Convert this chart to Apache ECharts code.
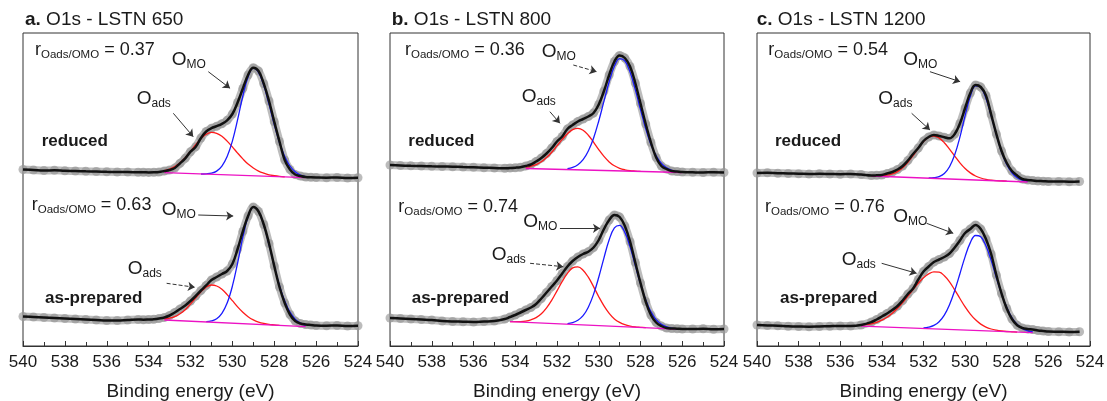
<!DOCTYPE html>
<html><head><meta charset="utf-8">
<script src="https://cdn.jsdelivr.net/npm/echarts@6/dist/echarts.min.js"></script>
<style>html,body{margin:0;padding:0;background:#fff}#c{width:1107px;height:401px}</style>
</head><body><div id="c"></div>
<script>
const N = null;
// Binding energy grid of the measured spectra (eV)
const energy = [540,539.5,539,538.5,538,537.5,537,536.5,536,535.5,535,534.5,534.25,534,533.75,533.5,533.25,533,532.75,532.5,532.25,532,531.75,531.5,531.25,531,530.75,530.5,530.25,530,529.75,529.5,529.25,529,528.75,528.5,528.25,528,527.75,527.5,527.25,527,526.75,526.5,526.25,526,525.5,525,524.5,524];
// Intensities (arbitrary units, offset stacked)
const a650Red  = [176.5,176,175.5,175.7,175.2,175,174.7,174.5,174.2,174,174,173.7,173.7,173.6,173.7,174,175,176,178,182.7,187.7,194.3,199.3,208,214.5,217.8,219.8,222.2,225.7,232,243.5,257.5,271,278.3,275,262.3,245,224.3,204.5,186,176.5,171.5,170,169,168.7,168.5,168.3,168.5,168,168.2];
const a650Prep = [29.5,29,28.5,28,27.5,27,26.5,26,25.5,25.5,26,26.5,26.3,26.5,26.8,27.5,28.5,30.5,33.5,37,40.5,45,50,55.5,60.6,66,69,72,75,82,97,114.5,130,139,134.5,121.5,102.5,80,59,43,31.5,25,22.5,21.5,21,20.5,20.3,20.5,20,20.3];
const b800Red  = [181,180.5,180.2,180,179.7,179.5,179.3,179,178.7,178.3,178,177.7,178,178.3,178.8,180,181.5,184.5,188,192.5,198,204.5,209.5,217,221,224.5,227,229.5,233,241.5,255,271,284.5,290.5,288,279.5,263,242.5,222,203.5,188.5,180,177,175,174.5,174,173.7,173.5,173.8,173.5];
const b800Prep = [28,27.5,27,26.5,26,25,24.5,24.3,24,24.5,25,27,29,31,33.5,36,38.5,42,47.5,53.5,59.5,65.5,72.5,79.5,85,89,92,94.3,98.5,106,117,126,131,129,120,104.3,83.5,63,44.5,31,23.5,20,18,17.5,17.3,17,17,17.2,16.8,17];
const c1200Red = [173,173.2,172.8,172.5,172.3,172,172.2,172,171.8,172,171.5,170.5,170.7,171,172.5,174,176.5,180,185.5,192,198,205,209,211,210,208.8,207.7,212,222.5,238,253,261,259,250.5,231.5,212,195,183,175,170.5,167,166,165.5,165,164.8,164.5,164.5,164.3,164.5,N];
const c1200Prep= [21,20.5,20.3,19.8,19.5,19.3,19.5,19.8,20,20,21,24,26.5,29.5,32.5,36,40,45.5,52,57.5,66.5,74.5,79.5,84,86.5,89,92.5,98.5,105.5,113,117,121,117,107,92,71,52.5,37.5,27,20.8,18,17,16.5,15.5,15,14.5,14.3,14,14.3,N];

// Fitted components on the fit grid (eV)
const fitE = [535,534.75,534.5,534.25,534,533.75,533.5,533.25,533,532.75,532.5,532.25,532,531.75,531.5,531.25,531,530.75,530.5,530.25,530,529.75,529.5,529.25,529,528.75,528.5,528.25,528,527.75,527.5,527.25,527,526.75,526.5,526.25,526];
const a650RedAds  = [N,N,N,N,N,N,N,175.3,176.9,179.5,183.3,188.4,194.7,201.3,207.3,211.7,213.6,212.6,209.7,204.9,199.1,192.9,187.1,181.9,178,174.9,172.8,171.2,170.3,169.6,169.1,N,N,N,N,N,N];
const a650RedMO   = [N,N,N,N,N,N,N,N,N,N,N,N,N,N,172.0,172.2,172.8,174.9,179.9,189.4,204.9,226.3,250,269.1,277.8,273.7,260.6,241.8,221.7,203.5,189.5,180,174.2,170.9,169.3,N,N];
const a650PrepAds = [N,N,N,N,N,N,N,26.9,27.8,29.3,32.2,36.3,41.9,48.1,54.3,58.9,61,60,56.7,51.4,45.3,39.1,33.7,29.3,26.1,23.9,22.5,21.6,21.1,20.6,N,N,N,N,N,N,N];
const a650PrepMO  = [N,N,N,N,N,N,N,N,N,N,N,N,N,N,N,24.4,25.1,27.3,32.7,42.9,59.8,83,108.8,129.4,138.8,134.5,121,101.5,80.1,60.4,44.9,33.8,26.9,22.9,20.7,N,N];
const b800RedAds  = [N,N,N,N,N,N,178.7,179.7,181.4,184.3,188.5,193.8,200.1,206.6,212.3,216.3,217.7,215.8,210.8,203.9,196.4,189.6,184.1,180.2,177.7,176.2,175.3,174.9,174.6,N,N,N,N,N,N,N,N];
const b800RedMO   = [N,N,N,N,N,N,N,N,N,N,N,N,N,N,177.4,178.6,181.3,186.3,195,207.8,225,244.8,264.3,279.8,287.4,285.1,273.9,256.4,236.4,217.3,201.6,190.1,182.6,178.1,175.7,174.3,173.6];
const b800PrepAds = [N,N,N,24.4,24.3,24.4,24.9,26.2,28.4,32.3,38.2,45.9,55.1,64.6,72.7,78.1,79.2,75.8,68.8,59.4,49.3,40.2,32.7,27.1,23.6,21.3,19.9,19.1,18.7,18.3,N,N,N,N,N,N,N];
const b800PrepMO  = [N,N,N,N,N,N,N,N,N,N,N,N,N,N,22.4,23.3,25.7,30.3,38.8,51.6,68.7,88.2,106.2,118.1,120.6,113.6,99.1,80.6,62.1,46.1,34.2,26.4,21.7,19.1,17.8,16.9,N];
const c1200RedAds = [N,N,170.1,170.1,170.2,170.8,172.1,174.4,178.3,183.7,190.5,197.8,204.4,208.8,210,207.9,203.3,196.9,189.9,183.2,177.5,173.1,170,168,166.7,165.9,165.4,165.1,164.8,N,N,N,N,N,N,N,N];
const c1200RedMO  = [N,N,N,N,N,N,N,N,N,N,N,N,N,168,168.3,169.4,172.5,179.3,191.2,208.9,230.4,249.6,260.2,258.8,247.7,230.4,211.3,194.3,181.5,173.2,168.3,165.8,164.6,N,N,N,N];
const c1200PrepAds= [20.8,21.3,22.2,23.7,25.8,28.8,32.8,37.7,43.5,49.9,56.5,62.8,68.2,72.1,74.1,73.8,70.3,64.2,56.1,47.5,39.1,31.9,26.2,21.9,18.9,17,15.8,15,14.5,14.2,13.9,N,N,N,N,N,N];
const c1200PrepMO = [N,N,N,N,N,N,N,N,N,N,N,N,18,18.8,20.6,24.3,30.9,41.3,55.4,72.3,89.4,103.4,110.5,109.2,100.2,85.6,68.5,52.1,38.4,28.2,21.5,17.5,15.2,14,N,N,N];

// Background (baseline) end points [eV, intensity]
const a650RedBase  = [[533.25,173.3],[526.5,168.3]];
const a650PrepBase = [[533.25,26.0],[526.5,19.3]];
const b800RedBase  = [[533.5,177.5],[526,173.5]];
const b800PrepBase = [[534.25,24.3],[526,16.6]];
const c1200RedBase = [[534.5,170],[527,164]];
const c1200PrepBase= [[535,19.8],[526.75,13.3]];

// Annotation arrows [fromE, fromI, toE, toI, dashed]
const a650RedArrows  = [[531.15,274.3,530.11,257.7,0],[532.82,232.7,531.87,209.3,0]];
const a650PrepArrows = [[531.63,131,529.96,130,0],[533.14,62.7,531.79,58.7,1]];
const b800RedArrows  = [[531.22,281,530.1,274.3,1],[532.34,234.3,531.86,222.7,0]];
const b800PrepArrows = [[531.86,117.7,529.94,117.7,0],[533.29,82.7,531.7,79.3,1]];
const c1200RedArrows = [[531.69,274.3,530.24,264.3,0],[532.57,232.7,531.69,216,0]];
const c1200PrepArrows= [[531.85,122.7,530.57,112.7,0],[534.01,82.7,532.33,72.7,0]];

// Texts
const panelTitles = [['a.',' O1s - LSTN 650'],['b.',' O1s - LSTN 800'],['c.',' O1s - LSTN 1200']];
const ratioValues = ['0.37','0.63','0.36','0.74','0.54','0.76'];
const stateNames = ['reduced','as-prepared'];
const xTicksMin = 524, xTicksMax = 540, xTickStep = 2;
const axisTitle = 'Binding energy (eV)';

const FONT = "'Liberation Sans', Arial, Helvetica, sans-serif";
const INK = '#1a1a1a';

const spectra = [
  {g:0, data:a650Red,  base:a650RedBase,  ads:a650RedAds,  mo:a650RedMO,  arrows:a650RedArrows},
  {g:0, data:a650Prep, base:a650PrepBase, ads:a650PrepAds, mo:a650PrepMO, arrows:a650PrepArrows},
  {g:1, data:b800Red,  base:b800RedBase,  ads:b800RedAds,  mo:b800RedMO,  arrows:b800RedArrows},
  {g:1, data:b800Prep, base:b800PrepBase, ads:b800PrepAds, mo:b800PrepMO, arrows:b800PrepArrows},
  {g:2, data:c1200Red, base:c1200RedBase, ads:c1200RedAds, mo:c1200RedMO, arrows:c1200RedArrows},
  {g:2, data:c1200Prep,base:c1200PrepBase,ads:c1200PrepAds,mo:c1200PrepMO,arrows:c1200PrepArrows}
];

function pairs(xs, ys){ const out=[]; xs.forEach((x,i)=>{ if(ys[i]!=null) out.push([x,ys[i]]); }); return out; }

const gridBoxes = [{left:23,width:335},{left:390,width:334},{left:757,width:333}];
const grid = gridBoxes.map(b=>({left:b.left, top:33, width:b.width, height:313, show:true, borderColor:'#333', borderWidth:1,
  backgroundColor:'transparent', containLabel:false, outerBoundsMode:'none'}));
const xAxis = gridBoxes.map((b,i)=>({
  gridIndex:i, type:'value', min:xTicksMin, max:xTicksMax, interval:xTickStep, inverse:true,
  axisLine:{show:true, lineStyle:{color:'#333', width:1}},
  axisTick:{show:true, inside:true, length:5, lineStyle:{color:'#333'}},
  minorTick:{show:true, splitNumber:2, length:4, lineStyle:{color:'#333'}},
  splitLine:{show:false}, minorSplitLine:{show:false},
  axisLabel:{fontSize:17, color:'#1a1a1a', margin:8, fontFamily:FONT},
  name:axisTitle, nameLocation:'middle', nameGap:36,
  nameTextStyle:{fontSize:19, color:'#1a1a1a', fontFamily:FONT}
}));
const yAxis = gridBoxes.map((b,i)=>({gridIndex:i, type:'value', min:0, max:313, show:false}));

const series = [];
spectra.forEach(s=>{
  const pts = pairs(energy, s.data);
  series.push({type:'line', xAxisIndex:s.g, yAxisIndex:s.g, data:pts, smooth:0.3, silent:true,
    symbol:'circle', symbolSize:9, showSymbol:true, showAllSymbol:true,
    itemStyle:{color:'rgba(150,150,150,0.65)'}, lineStyle:{color:'rgba(160,160,160,0.7)', width:8}, z:1});
  series.push({type:'line', xAxisIndex:s.g, yAxisIndex:s.g, data:pairs(fitE, s.ads), smooth:0.4, silent:true,
    showSymbol:false, lineStyle:{color:'#ff1a1a', width:1.3}, z:3});
  series.push({type:'line', xAxisIndex:s.g, yAxisIndex:s.g, data:pairs(fitE, s.mo), smooth:0.4, silent:true,
    showSymbol:false, lineStyle:{color:'#1a1aff', width:1.3}, z:3});
  series.push({type:'line', xAxisIndex:s.g, yAxisIndex:s.g, data:s.base, silent:true,
    showSymbol:false, lineStyle:{color:'#ec12c4', width:1.3}, z:4});
  series.push({type:'line', xAxisIndex:s.g, yAxisIndex:s.g, data:pts, smooth:0.4, silent:true,
    showSymbol:false, lineStyle:{color:'#111', width:2.5}, z:5,
    markLine:{silent:true, symbol:['none','arrow'], symbolSize:7, animation:false,
      label:{show:false}, lineStyle:{color:'#333', width:1, type:'solid'},
      data:s.arrows.map(a=>[{coord:[a[0],a[1]], lineStyle:{type:a[4]?'dashed':'solid', color:'#333', width:1}},{coord:[a[2],a[3]]}])}
  });
});

// Text layout (pixel positions)
const titlePos = [[25,20],[391.7,20],[756.7,20]];
const ratioPos = [[35,50],[31.7,205],[405,50],[398.3,206.7],[768.3,50],[765,206.7]];
const moPos    = [[171.7,60],[161.7,210],[541.7,51.7],[523.3,221.7],[903.3,60],[893.3,216.7]];
const adsPos   = [[136.7,99],[127.7,268.3],[521.7,96.7],[491.7,255],[878.3,99],[841.7,260]];
const statePos = [[41.7,141.7],[45,298.3],[408.3,141.7],[411.7,298.3],[775,141.7],[780,298.3]];

const graphic = [];
panelTitles.forEach((t,i)=>{
  graphic.push({type:'text', x:titlePos[i][0], y:titlePos[i][1], silent:true,
    style:{text:'{b|'+t[0]+'}{n|'+t[1]+'}', verticalAlign:'middle', align:'left', fill:INK,
      rich:{b:{fontSize:19, fontWeight:'bold', fontFamily:FONT, fill:INK},
            n:{fontSize:19, fontFamily:FONT, fill:INK}}}});
});
ratioValues.forEach((v,i)=>{
  graphic.push({type:'text', x:ratioPos[i][0], y:ratioPos[i][1], silent:true,
    style:{text:'{r|r}{s|Oads/OMO}{t| = '+v+'}', verticalAlign:'middle', align:'left', fill:INK,
      rich:{r:{fontSize:18, lineHeight:22, fontFamily:FONT, fill:INK},
            s:{fontSize:11.5, lineHeight:10, verticalAlign:'bottom', fontFamily:FONT, fill:INK},
            t:{fontSize:18, lineHeight:22, fontFamily:FONT, fill:INK}}}});
  graphic.push({type:'text', x:moPos[i][0], y:moPos[i][1], silent:true,
    style:{text:'{o|O}{s|MO}', verticalAlign:'middle', align:'left', fill:INK,
      rich:{o:{fontSize:19, lineHeight:22, fontFamily:FONT, fill:INK},
            s:{fontSize:12, lineHeight:10, verticalAlign:'bottom', fontFamily:FONT, fill:INK}}}});
  graphic.push({type:'text', x:adsPos[i][0], y:adsPos[i][1], silent:true,
    style:{text:'{o|O}{s|ads}', verticalAlign:'middle', align:'left', fill:INK,
      rich:{o:{fontSize:19, lineHeight:22, fontFamily:FONT, fill:INK},
            s:{fontSize:12, lineHeight:10, verticalAlign:'bottom', fontFamily:FONT, fill:INK}}}});
  graphic.push({type:'text', x:statePos[i][0], y:statePos[i][1], silent:true,
    style:{text:stateNames[i%2], verticalAlign:'middle', align:'left', fill:INK,
      font:'bold 17px '+FONT}});
});

const chart = echarts.init(document.getElementById('c'), null, {renderer:'canvas'});
chart.setOption({animation:false, backgroundColor:'#fff', textStyle:{fontFamily:FONT}, grid, xAxis, yAxis, series, graphic});
</script></body></html>
